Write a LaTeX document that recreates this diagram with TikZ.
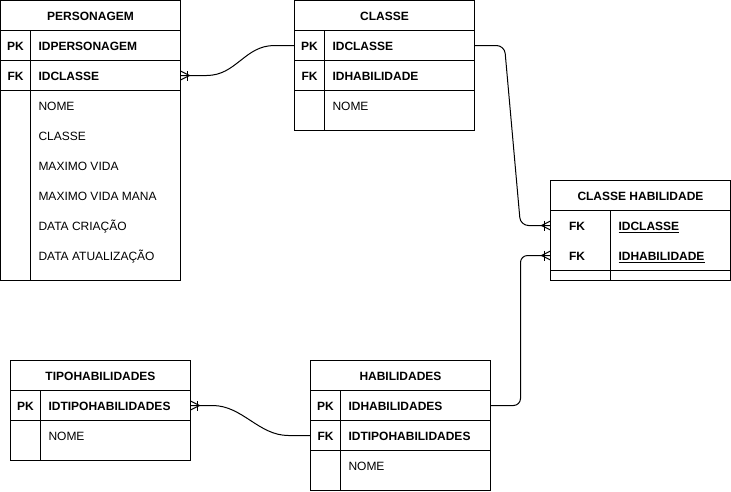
\documentclass[tikz,border=0pt]{standalone}
\usepackage{fontspec}
\setmainfont{Liberation Sans}

\tikzset{
  cell/.style={font=\fontsize{12}{14}\selectfont, inner sep=0pt,
    text height=10pt, text depth=0pt},
  title/.style={cell, font=\fontsize{12}{14}\selectfont\bfseries},
  keytag/.style={title},
  keyname/.style={title, anchor=west},
  attr/.style={cell, anchor=west},
  rowbox/.style={minimum width=180pt, minimum height=30pt, inner sep=0pt,
    outer sep=0pt, anchor=north west},
  crowfoot/.pic={
    \draw (0,-4.5) -- (-9,0) -- (0,4.5);
    \draw (-6.5,-5) -- (-6.5,5);
  }
}

\begin{document}
\begin{tikzpicture}[x=1pt, y=-1pt, line width=1pt]
  \useasboundingbox[fill=white] (0,0) rectangle (731,491);

  % PERSONAGEM
  \node[rowbox, draw, title] (pers) at (0.5,0.5) {PERSONAGEM};
  \node[rowbox, draw] (pers-pk) at (0.5,30.5) {};
  \node[rowbox, draw] (pers-fk) at (0.5,60.5) {};
  \draw (0.5,90.5) rectangle (180.5,280.5);
  \draw (30.5,30.5) -- (30.5,280.5);
  \node[keytag] (pers-pk-tag) at ([xshift=15pt]pers-pk.west) {PK};
  \node[keyname] (pers-pk-name) at ([xshift=37.5pt]pers-pk.west) {IDPERSONAGEM};
  \node[keytag] (pers-fk-tag) at ([xshift=15pt]pers-fk.west) {FK};
  \node[keyname] (pers-fk-name) at ([xshift=37.5pt]pers-fk.west) {IDCLASSE};
  \foreach \t [count=\i] in {NOME, CLASSE, MAXIMO VIDA, MAXIMO VIDA MANA,
      DATA CRIAÇÃO, DATA ATUALIZAÇÃO}
    \node[attr] (pers-attr\i) at (38,75.5+30*\i) {\t};

  % CLASSE
  \node[rowbox, draw, title] (classe) at (294.5,0.5) {CLASSE};
  \node[rowbox, draw] (classe-pk) at (294.5,30.5) {};
  \node[rowbox, draw] (classe-fk) at (294.5,60.5) {};
  \draw (294.5,90.5) rectangle (474.5,130.5);
  \draw (324.5,30.5) -- (324.5,130.5);
  \node[keytag] (classe-pk-tag) at ([xshift=15pt]classe-pk.west) {PK};
  \node[keyname] (classe-pk-name) at ([xshift=37.5pt]classe-pk.west) {IDCLASSE};
  \node[keytag] (classe-fk-tag) at ([xshift=15pt]classe-fk.west) {FK};
  \node[keyname] (classe-fk-name) at ([xshift=37.5pt]classe-fk.west) {IDHABILIDADE};
  \node[attr] (classe-attr1) at (332,105.5) {NOME};

  % CLASSE HABILIDADE
  \node[rowbox, draw, title] (ch) at (550.5,180.5) {CLASSE HABILIDADE};
  \node[rowbox] (ch-fk1) at (550.5,210.5) {};
  \node[rowbox] (ch-fk2) at (550.5,240.5) {};
  \draw (550.5,210.5) rectangle (730.5,280.5);
  \draw (550.5,270.5) -- (730.5,270.5);
  \draw (610.5,210.5) -- (610.5,280.5);
  \node[keytag] (ch-fk1-tag) at ([xshift=26.5pt]ch-fk1.west) {FK};
  \node[keyname] (ch-fk1-name) at ([xshift=67.5pt]ch-fk1.west) {\underline{IDCLASSE}};
  \node[keytag] (ch-fk2-tag) at ([xshift=26.5pt]ch-fk2.west) {FK};
  \node[keyname] (ch-fk2-name) at ([xshift=67.5pt]ch-fk2.west) {\underline{IDHABILIDADE}};

  % TIPOHABILIDADES
  \node[rowbox, draw, title] (tipo) at (10.5,360.5) {TIPOHABILIDADES};
  \node[rowbox, draw] (tipo-pk) at (10.5,390.5) {};
  \draw (10.5,420.5) rectangle (190.5,460.5);
  \draw (40.5,390.5) -- (40.5,460.5);
  \node[keytag] (tipo-pk-tag) at ([xshift=15pt]tipo-pk.west) {PK};
  \node[keyname] (tipo-pk-name) at ([xshift=37.5pt]tipo-pk.west) {IDTIPOHABILIDADES};
  \node[attr] (tipo-attr1) at (48,435.5) {NOME};

  % HABILIDADES
  \node[rowbox, draw, title] (hab) at (310.5,360.5) {HABILIDADES};
  \node[rowbox, draw] (hab-pk) at (310.5,390.5) {};
  \node[rowbox, draw] (hab-fk) at (310.5,420.5) {};
  \draw (310.5,450.5) rectangle (490.5,490.5);
  \draw (340.5,390.5) -- (340.5,490.5);
  \node[keytag] (hab-pk-tag) at ([xshift=15pt]hab-pk.west) {PK};
  \node[keyname] (hab-pk-name) at ([xshift=37.5pt]hab-pk.west) {IDHABILIDADES};
  \node[keytag] (hab-fk-tag) at ([xshift=15pt]hab-fk.west) {FK};
  \node[keyname] (hab-fk-name) at ([xshift=37.5pt]hab-fk.west) {IDTIPOHABILIDADES};
  \node[attr] (hab-attr1) at (348,465.5) {NOME};

  % relationships
  \draw (pers-fk.east) -- ++(26,0)
    .. controls +(30,0) and +(-30,0) .. ([xshift=-20pt]classe-pk.west)
    -- (classe-pk.west);
  \pic[rotate=180] at (pers-fk.east) {crowfoot};

  \draw[rounded corners=8pt] (classe-pk.east) -- ++(30,0)
    -- ([xshift=-30pt]ch-fk1.west) -- (ch-fk1.west);
  \pic at (ch-fk1.west) {crowfoot};

  \draw[rounded corners=7pt] (hab-pk.east) -| ([xshift=-30pt]ch-fk2.west)
    -- (ch-fk2.west);
  \pic at (ch-fk2.west) {crowfoot};

  \draw (tipo-pk.east) -- ++(22,0)
    .. controls +(30,0) and +(-30,0) .. ([xshift=-22pt]hab-fk.west)
    -- (hab-fk.west);
  \pic[rotate=180] at (tipo-pk.east) {crowfoot};
\end{tikzpicture}
\end{document}
